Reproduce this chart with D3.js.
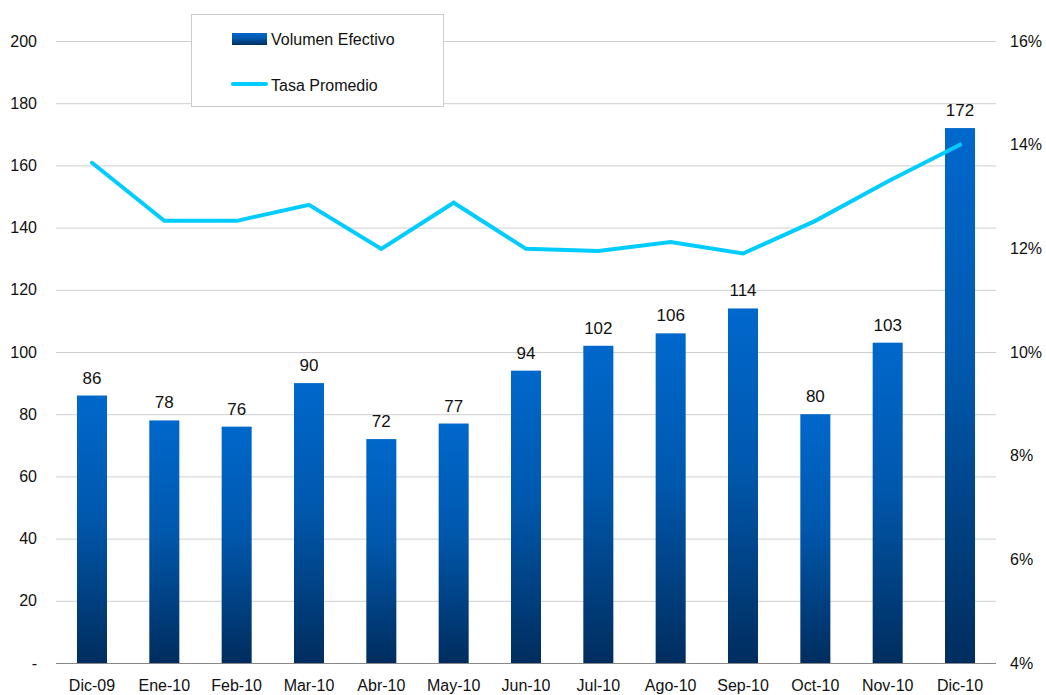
<!DOCTYPE html>
<html><head><meta charset="utf-8">
<script src="https://cdn.jsdelivr.net/npm/d3@7"></script>
<style>body{margin:0;background:#fff;} text{font-family:"Liberation Sans",Arial,sans-serif;fill:#111;}</style>
</head><body>
<svg id="c" width="1046" height="695"></svg>
<script>
const categories = ["Dic-09","Ene-10","Feb-10","Mar-10","Abr-10","May-10","Jun-10","Jul-10","Ago-10","Sep-10","Oct-10","Nov-10","Dic-10"];
const volumen = [86,78,76,90,72,77,94,102,106,114,80,103,172];
const tasa = [13.65,12.53,12.53,12.84,11.99,12.88,11.99,11.95,12.12,11.90,12.53,13.29,14.0];
const leftTicks = [0,20,40,60,80,100,120,140,160,180,200];
const rightTicks = [4,6,8,10,12,14,16];

const svg = d3.select("#c");
const x0 = 56, x1 = 996, yTop = 41, yBot = 663;
const x = d3.scaleBand().domain(categories).range([x0, x1]).paddingInner(0.585).paddingOuter(0.29);
const yL = d3.scaleLinear().domain([0,200]).range([yBot, yTop]);
const yR = d3.scaleLinear().domain([4,16]).range([yBot, yTop]);

const defs = svg.append("defs");
const g = defs.append("linearGradient").attr("id","bg").attr("x1",0).attr("y1",0).attr("x2",0).attr("y2",1);
g.append("stop").attr("offset","0%").attr("stop-color","#0068cc");
g.append("stop").attr("offset","45%").attr("stop-color","#0058ad");
g.append("stop").attr("offset","100%").attr("stop-color","#002d5e");

svg.append("g").selectAll("line").data(leftTicks.filter(d=>d>0)).join("line")
  .attr("x1",x0).attr("x2",x1).attr("y1",d=>yL(d)+0.5).attr("y2",d=>yL(d)+0.5)
  .attr("stroke","#cfcfcf").attr("stroke-width",1);

svg.append("g").selectAll("text").data(leftTicks).join("text")
  .attr("x",37).attr("y",d=>yL(d)).attr("dy","0.35em").attr("text-anchor","end")
  .attr("font-size",16).text(d=>d===0?"-":d);

svg.append("g").selectAll("text").data(rightTicks).join("text")
  .attr("x",1010).attr("y",d=>yR(d)).attr("dy","0.35em").attr("text-anchor","start")
  .attr("font-size",16).text(d=>d+"%");

svg.append("g").selectAll("rect").data(volumen).join("rect")
  .attr("x",(d,i)=>x(categories[i])).attr("width",x.bandwidth())
  .attr("y",d=>yL(d)).attr("height",d=>yBot-yL(d)).attr("fill","url(#bg)");

svg.append("g").selectAll("text").data(volumen).join("text")
  .attr("x",(d,i)=>x(categories[i])+x.bandwidth()/2).attr("y",d=>yL(d)-12)
  .attr("text-anchor","middle").attr("font-size",17).text(d=>d);

svg.append("line").attr("x1",x0).attr("x2",x1).attr("y1",yBot+0.5).attr("y2",yBot+0.5)
  .attr("stroke","#888").attr("stroke-width",1);

svg.append("g").selectAll("text").data(categories).join("text")
  .attr("x",d=>x(d)+x.bandwidth()/2).attr("y",691).attr("text-anchor","middle")
  .attr("font-size",16).text(d=>d);

const line = d3.line().x((d,i)=>x(categories[i])+x.bandwidth()/2).y(d=>yR(d));
svg.append("path").datum(tasa).attr("d",line).attr("fill","none")
  .attr("stroke","#00ccff").attr("stroke-width",4).attr("stroke-linecap","round").attr("stroke-linejoin","miter");

const lg = svg.append("g");
lg.append("rect").attr("x",191.5).attr("y",14.5).attr("width",252).attr("height",92)
  .attr("fill","#fff").attr("stroke","#ccc").attr("stroke-width",1);
lg.append("rect").attr("x",232).attr("y",33).attr("width",35).attr("height",12).attr("fill","url(#bg)");
lg.append("text").attr("x",271).attr("y",39).attr("dy","0.35em").attr("font-size",16).text("Volumen Efectivo");
lg.append("line").attr("x1",233).attr("x2",266).attr("y1",84).attr("y2",84)
  .attr("stroke","#00ccff").attr("stroke-width",4).attr("stroke-linecap","round");
lg.append("text").attr("x",271).attr("y",85).attr("dy","0.35em").attr("font-size",16).text("Tasa Promedio");
</script>
</body></html>
